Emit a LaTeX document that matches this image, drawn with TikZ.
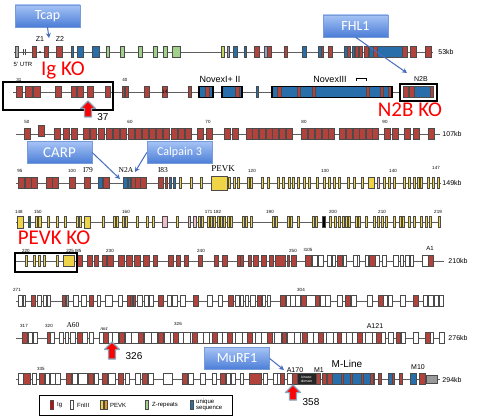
\documentclass[tikz,border=0pt]{standalone}
\usepackage{fontspec}
\setmainfont{Liberation Sans}
\newfontfamily\calib{Carlito}
\newfontfamily\tnr{Liberation Serif}
\usetikzlibrary{arrows.meta}

\definecolor{igred}{RGB}{178,66,60}
\definecolor{uniqblue}{RGB}{40,110,170}
\definecolor{pevkyel}{RGB}{238,212,70}
\definecolor{pevkorg}{RGB}{235,150,40}
\definecolor{zgreen}{RGB}{160,208,140}
\definecolor{zyel}{RGB}{195,215,95}
\definecolor{greyblue}{RGB}{150,160,195}
\definecolor{darkgreen}{RGB}{40,110,80}
\definecolor{pinkex}{RGB}{238,190,200}
\definecolor{exline}{RGB}{75,75,75}
\definecolor{intronline}{RGB}{95,95,95}
\definecolor{calltop}{RGB}{165,195,245}
\definecolor{callbot}{RGB}{75,125,215}
\definecolor{callline}{RGB}{120,155,215}
\definecolor{arrblue}{RGB}{70,110,190}
\definecolor{koedge}{RGB}{135,165,185}

\tikzset{
  exon/.style={draw=exline, line width=0.4pt},
  intron/.style={draw=intronline, line width=0.8pt},
  novex/.style={draw=black, line width=1.3pt},
  kobox/.style={draw=black, line width=1.5pt},
  callout/.style={draw=callline, top color=calltop, bottom color=callbot, text=white,
    font=\calib\fontsize{14}{14}\selectfont, minimum width=65pt, minimum height=22pt, inner sep=1pt},
  callarrow/.style={draw=arrblue, line width=1pt, -{Stealth[length=5pt,width=5pt]}},
  koarr/.style={fill=red, draw=koedge, line width=1.2pt, line join=round},
  kolabel/.style={text=red, font=\calib\fontsize{21}{21}\selectfont, inner sep=0pt},
  num/.style={font=\fontsize{4.5}{5}\selectfont, inner sep=0pt},
  kb/.style={font=\fontsize{7}{7}\selectfont, inner sep=0pt},
  serifl/.style={font=\tnr\fontsize{7.5}{8}\selectfont, inner sep=0pt},
  small/.style={font=\fontsize{7}{7}\selectfont, inner sep=0pt},
}

% exons: y, colour, x/width list
\newcommand{\exons}[3]{\foreach \x/\w in {#3} {\draw[exon, fill=#2] (\x,#1-5.5) rectangle ++(\w,11);}}
% thin exons of the PEVK region
\newcommand{\slims}[3]{\foreach \x in {#3} {\draw[exon, fill=#2] (\x,#1-5.5) rectangle ++(2.5,11);}}
% red up arrow: x, tip y, base y
\newcommand{\koarrow}[3]{\draw[koarr] (#1,#2) -- ++(7.5,7.5) -- ++(-4,0) -- (#1+3.5,#3)
  -- (#1-3.5,#3) -- (#1-3.5,#2+7.5) -- ++(-4,0) -- cycle;}

\begin{document}
\begin{tikzpicture}[x=1pt,y=-1pt]
    \useasboundingbox[fill=white] (0,0) rectangle (480,417);

    % Row 1 - Z-disc
    \draw[intron] (14,52) -- (433,52);
    \exons{52}{black!35}{15/3}
    \draw[exon] (23,49) -- (23,55) (25.5,49) -- (25.5,55);
    \fill (40,52) circle (0.8);
    \exons{52}{igred}{32/4,44/4,56/6,254/5,267/4,284/3,321/2.5,328/4,347/3,355/3,359/3,364/4,373/5,402/5,410/6,425/6}
    \exons{52}{uniqblue}{71/2.5,77/6,92/7,233/4,244/2,302/4,318/3,344/3,352/2,369/4,377/25}
    \exons{52}{greyblue}{227/2.5,264/3}
    \exons{52}{zgreen}{106/3.5,120/4,138/4,153/4,163/4,172/8}
    \exons{52}{zyel}{221/3.5}
    \node[small] (z1) at (40,39) {Z1};
    \node[small] (z2) at (60,39) {Z2};
    \node[font=\fontsize{6}{6}\selectfont, inner sep=0pt] (utr) at (23,64) {5' UTR};
    \node[kb] (kb53) at (446,52) {53kb};

    % Row 2 - N2B / Novex
    \draw[intron] (13,92) -- (400,92);
    \exons{92}{igred}{16/6,25/7,33/7,55/6,71/5,77/6,87/6,105/5,122/2,125/3,144/5,162/5,188/3}
    \exons{92}{uniqblue}{199/14,222/20,256/2.5,272/120,414/16}
    \exons{92}{igred}{205/4,235/4,277/4,297/3.5,312/3.5,366/3.5,380/3.5,388/3.5,403/5,409/5,430/3}
    \draw[novex] (199,86.5) rectangle ++(14,11);
    \draw[novex] (222,86.5) rectangle ++(20,11);
    \draw[novex] (272,86.5) rectangle ++(120,11);
    \node[font=\fontsize{5}{5}\selectfont, inner sep=0pt] (e14) at (165,92) {14};
    \node[num] (n31) at (19,80) {31};
    \node[num] (n40) at (125,80) {40};
    \node[font=\fontsize{9}{9}\selectfont, inner sep=0pt] (nov12) at (220,79.5) {NovexI+ II};
    \node[font=\fontsize{9}{9}\selectfont, inner sep=0pt] (nov3) at (330,79.5) {NovexIII};
    \draw[line width=0.6pt] (356,81) -- (356,78) -- (366,78) -- (366,81);
    \node[small] (n2b) at (421,79) {N2B};
    \draw[kobox] (3,82) rectangle (113,110);
    \draw[kobox] (400,84) rectangle (437,101);
    \node[kolabel] (igko) at (63,70) {Ig KO};
    \node[kolabel] (n2bko) at (410,109.5) {N2B KO};
    \koarrow{88}{101}{117}
    \node[font=\fontsize{10}{10}\selectfont, inner sep=0pt] (a37) at (103,117) {37};

    % Tcap and FHL1
    \node[callout] (tcap) at (47.5,16) {Tcap};
    \coordinate (tcapTip) at (49,38);
    \draw[callarrow] (tcap.south) -- (tcapTip);
    \node[callout] (fhl) at (355.5,26) {FHL1};
    \coordinate (fhlTip) at (407,73);
    \draw[callarrow] (fhl.south) -- (fhlTip);

    % Row 3 - Ig
    \draw[intron] (16,134) -- (440,134);
    \exons{131}{igred}{38/6}
    \foreach \x in {24,54,63,71,83,90,98,106,113,120,128,135,142,149,156,163,171,178,185,197,206,
                    224,232,246,252,259,266,272,279,286,301,308,315,322,328,339,346,353,359,366,372,
                    384,392,404,413,428} {
        \draw[exon, fill=igred] (\x,128.5) rectangle ++(6.5,11);
    }
    \foreach \t/\x in {50/27,60/130,70/208,80/304,90/385} {
        \node[num] (r3n\t) at (\x,122) {\t};
    }
    \node[kb] (kb107) at (452,134) {107kb};

    % Row 4 - N2A / PEVK start
    \draw[intron] (16,183) -- (441,183);
    \exons{183}{igred}{18/6,25/6,31/6,46/6,52/6,69/6,84/6,103/6,131/4,135/5,140/6,158/5,165/2.5}
    \exons{183}{uniqblue}{98/4,123/4,128/2.5,169/2.5,173/2.5}
    \slims{183}{pevkyel}{179,190,200,228,233,237,247,250,261,267,277,282,288,292,297,303,308,316,323,
                         328,333,338,347,353,361,383,388,393,403,408,413,417,420,427,432,437}
    \draw[exon, fill=pevkyel] (211,176) rectangle ++(16,14);
    \exons{183}{pevkyel}{368/6}
    \exons{183}{pinkex}{377/2.5}
    \foreach \t/\x in {95/20,100/72,120/252,130/325,140/393} {
        \node[num] (r4n\t) at (\x,171) {\t};
    }
    \node[num] (r4n147) at (436,168) {147};
    \node[serifl] (i79) at (88,170) {I79};
    \node[serifl] (n2a) at (126,170) {N2A};
    \node[serifl] (i83) at (163,170) {I83};
    \node[font=\tnr\fontsize{9}{9}\selectfont, inner sep=0pt] (pevk) at (223,168.5) {PEVK};
    \node[kb] (kb149) at (452,183) {149kb};

    % CARP and Calpain 3
    \node[callout, font=\calib\fontsize{15}{15}\selectfont] (carp) at (59.5,152.5) {CARP};
    \coordinate (carpTip) at (120,179);
    \draw[callarrow] (carp.east) -- (carpTip);
    \node[callout, font=\calib\fontsize{12}{12}\selectfont] (calp) at (179.5,152.5) {Calpain 3};
    \coordinate (calpTip) at (135,172);
    \draw[callarrow] (calp.west) -- (calpTip);

    % Row 5 - PEVK
    \draw[intron] (16,222) -- (440,222);
    \draw[exon, fill=pevkyel] (17,216) rectangle ++(6,12);
    \draw[exon, fill=pevkyel] (84,216) rectangle ++(6,12);
    \slims{222}{pevkyel}{35,38.5,47,56,64,76,79,102,113,116,122,125,136,146,152,176,198,201,207,210,213,
                         217,220,223,227,230,242,245,250,272,275,287,290,297,312,315,329,334,338,342,
                         345,348,355,358,365,373,377,381,385,393,399,402,408,413,420,425,429,438}
    \exons{222}{darkgreen}{28/2}
    \exons{222}{pinkex}{162/5,188/2.5,193/3}
    \exons{222}{black}{322/3}
    \foreach \t/\x in {148/19,150/38,160/126,190/270,200/333,210/382,219/438} {
        \node[num] (r5n\t) at (\x,212) {\t};
    }
    \node[num] (r5n171) at (213,212) {171 182};

    % Row 6 - PEVK end / A-band start
    \draw[intron] (16,261) -- (444,261);
    \slims{261}{pevkyel}{25,33,38,43,56}
    \exons{261}{pevkyel}{63/11}
    \exons{261}{igred}{77/5,87/5,94/4,102/4,107/6,118/6,126/6,134/6,143/6,153/4,168/5,176/4,184/4,198/4,
                       214/4,222/5,237/3,240/3,248/3,253/5,261/5,269/4,275/10,287/2.5,291/5,305/6,337/5,
                       369/6,428/5}
    \exons{261}{white}{312/5,318/5,327/4,332/3,343/3,353/4,357/2.5,365/3,375/4,382/4,393/5,400/3,405/4,
                       410/3,422/6}
    \draw[kobox] (15,253) rectangle (77,272);
    \node[kolabel] (pevkko) at (54,237.5) {PEVK KO};
    \foreach \t/\x in {220/26,230/110,240/201,250/293} {
        \node[num] (r6n\t) at (\x,251) {\t};
    }
    \node[num] (r6n225) at (74,250.5) {225 I85};
    \node[num] (r6i105) at (308,250) {I105};
    \node[small, font=\fontsize{6}{6}\selectfont] (a1) at (430,248) {A1};
    \node[kb] (kb210) at (458,261) {210kb};

    % Row 7 - A-band
    \draw[intron] (16,301) -- (444,301);
    \exons{301}{white}{18/4,23/2.5,37/4,43/3,47/3,73/5,81/5,97/3,105/7,118/4,137/5,144/4,149/4,167/4,
                       172/5,180/5,207/5,218/4,235/4,240/3,245/3,250/5,262/3,267/3,286/4,290/5,295/5,
                       306/9,320/5,325/5,337/5,351/5,367/5,383/4,388/4,400/5,423/4,428/5,434/4,439/4}
    \exons{301}{igred}{31/4,62/3.5,89/4,127/3,130/2.5,133/2.5,158/5,193/5,228/5,257/4,280/5,301/5,315/4,
                       345/5,378/5,413/5}
    \exons{301}{black!35}{66/2.5}
    \node[num] (r7n271) at (17,290) {271};
    \node[num] (r7n304) at (301,290) {304};

    % Row 8 - A-band
    \draw[intron] (16,338) -- (445,338);
    \foreach \x in {99,105.5,...,380} {
        \draw[exon, fill=white] (\x,332.5) rectangle ++(6.5,11);
    }
    \exons{338}{white}{28/4,33/4,50.5/3.5,59/4,65/3.5,70/5,82/5,89/4,388/5,401/4,413/5,430/3.5,439/5}
    \exons{338}{igred}{22/5,47/3.5,77/5,103/5,119/5,138/5,158/5,173/5,192/5,212/5,227/5,247/5,267/5,
                       282/4,302/5,318/5,337/4,357/5,376/5,396/4,425/5}
    \node[num] (r8n317) at (24,326) {317};
    \node[num] (r8n320) at (49,326) {320};
    \node[serifl] (a60) at (73,325) {A60};
    \node[font=\tnr\itshape\fontsize{4.5}{5}\selectfont, inner sep=0pt] (a64) at (104,329) {A64};
    \node[num] (r8n326) at (178,324) {326};
    \node[small] (a121) at (375,326) {A121};
    \node[kb] (kb276) at (458,338) {276kb};
    \koarrow{112}{342}{359}
    \node[font=\fontsize{10}{10}\selectfont, inner sep=0pt] (a326) at (134,356) {326};

    % Row 9 - M-line
    \draw[intron] (16,379) -- (440,379);
    \exons{379}{white}{18/5,32/4,45/4,50/5,55/5,72/5,78/9,94/4,108/7,125/4,135/5,148/5,163/9,188/5,200/5,
                       212/4,226/4,231/4,240/3,263/4,273/4,277/3,287/5}
    \exons{379}{uniqblue}{332/42,388/5,410/6}
    \exons{379}{igred}{23/7,39/5,66/5,88/5,102/5,118/5,142/5,182/5,220/5,249/12,280/4,292/5,316/4,322/4,
                       327/5,341/2,350/2,361/2,370/3,378/3,392/2,399/3,419/6}
    \draw[exon, fill=black!40] (426,375) rectangle ++(11,8);
    \node[draw=exline, fill=black!85, text=white, minimum width=19pt, minimum height=11pt, inner sep=0pt,
          align=center, font=\fontsize{3.5}{3.8}\selectfont] (kin) at (306.5,379) {kinase\\domain};
    \node[num] (r9n335) at (41,369) {335};
    \node[small] (a170) at (295,370) {A170};
    \node[small] (m1) at (319,370) {M1};
    \node[font=\fontsize{10}{10}\selectfont, inner sep=0pt] (mline) at (347,364) {M-Line};
    \node[small] (m10) at (418,367) {M10};
    \node[kb] (kb294) at (452,380) {294kb};
    \koarrow{293}{385}{400}
    \node[font=\fontsize{10}{10}\selectfont, inner sep=0pt] (a358) at (311,402) {358};

    % MuRF1
    \node[callout] (murf) at (237,358.5) {MuRF1};
    \coordinate (murfTip) at (284,370);
    \draw[callarrow] (murf.east) -- (murfTip);

    % Legend
    \draw[line width=0.6pt] (39,395) rectangle (232,415);
    \draw[exon, fill=red!85!black] (50,400.5) rectangle ++(3.5,9);
    \node[num, font=\fontsize{6}{6}\selectfont, anchor=west] (lig) at (57,405) {Ig};
    \draw[exon, fill=white] (70,400.5) rectangle ++(3.5,9);
    \node[num, font=\fontsize{6}{6}\selectfont, anchor=west] (lfn) at (77,405) {FnIII};
    \draw[exon, fill=pevkyel] (100,400.5) rectangle ++(3,9);
    \draw[exon, fill=pevkorg] (104,400.5) rectangle ++(3,9);
    \node[num, font=\fontsize{6}{6}\selectfont, anchor=west] (lpevk) at (110,405) {PEVK};
    \draw[exon, fill=zgreen] (145,400.5) rectangle ++(3.5,9);
    \node[num, font=\fontsize{6}{6}\selectfont, anchor=west] (lz) at (152,405) {Z-repeats};
    \draw[exon, fill=uniqblue] (190,400.5) rectangle ++(3.5,9);
    \node[num, font=\fontsize{6}{5.5}\selectfont, anchor=west, align=left] (luniq) at (196,405) {unique\\sequence};
\end{tikzpicture}
\end{document}
